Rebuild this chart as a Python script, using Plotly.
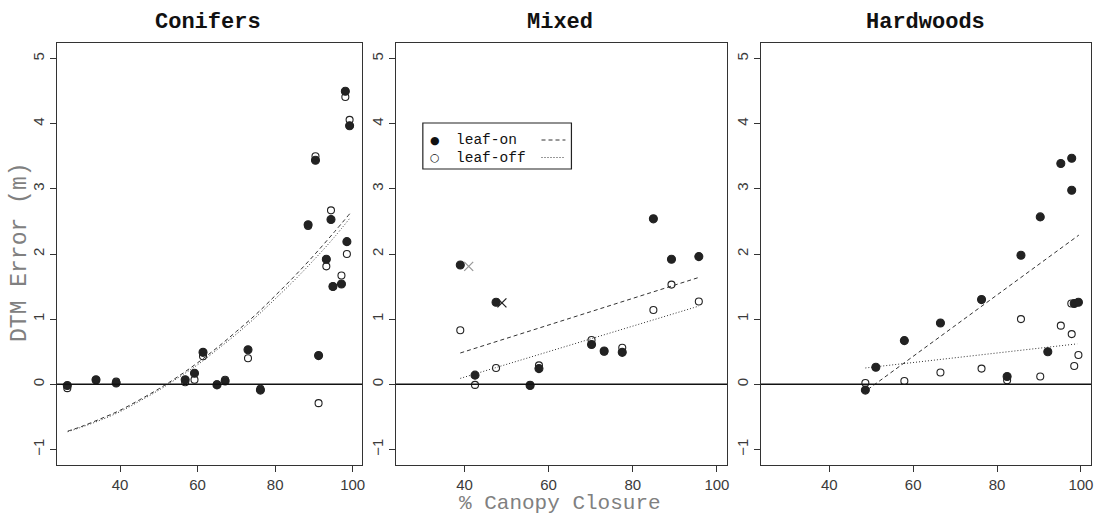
import plotly.graph_objects as go

# ---------------- data ----------------
# Conifers
con_x = [26.4, 33.8, 39.0, 56.8, 59.2, 61.4, 65.0, 67.1, 73.0, 76.2,
         88.5, 90.4, 91.2, 93.2, 94.4, 94.9, 97.1, 98.1, 98.5, 99.2]
con_on = [-0.02, 0.07, 0.02, 0.07, 0.17, 0.49, -0.01, 0.05, 0.53, -0.09,
          2.45, 3.44, 0.44, 1.92, 2.53, 1.50, 1.54, 4.50, 2.19, 3.97]
con_off = [-0.06, 0.06, 0.04, 0.03, 0.07, 0.43, 0.00, 0.07, 0.40, -0.07,
           2.43, 3.50, -0.29, 1.81, 2.67, 1.50, 1.67, 4.41, 2.00, 4.06]
con_fit_x = [26.5, 30, 35, 40, 45, 50, 55, 60, 65, 70, 75, 80, 85, 90, 95, 99.4]
con_fit_on = [-0.72, -0.65, -0.53, -0.40, -0.24, -0.07, 0.12, 0.33, 0.56, 0.81,
              1.07, 1.36, 1.66, 1.98, 2.32, 2.63]
con_fit_off = [-0.73, -0.66, -0.55, -0.42, -0.26, -0.09, 0.10, 0.30, 0.53, 0.77,
               1.03, 1.31, 1.60, 1.91, 2.24, 2.56]

# Mixed
mix_x = [39.0, 42.5, 47.5, 55.6, 57.7, 70.2, 73.2, 77.5, 84.9, 89.2, 95.7]
mix_on = [1.83, 0.14, 1.26, -0.02, 0.24, 0.61, 0.51, 0.49, 2.54, 1.92, 1.96]
mix_off = [0.83, -0.01, 0.25, -0.01, 0.29, 0.68, 0.50, 0.56, 1.14, 1.53, 1.27]
mix_out_x = [41.0, 48.9]
mix_out_y = [1.81, 1.25]
mix_fit_x = [39.0, 95.7]
mix_fit_on = [0.48, 1.64]
mix_fit_off = [0.09, 1.20]

# Hardwoods
hw_on_x = [48.6, 51.1, 57.9, 66.5, 76.3, 82.4, 85.7, 90.3, 92.1, 95.2, 97.8, 97.8, 98.4, 99.4]
hw_on = [-0.09, 0.26, 0.67, 0.94, 1.30, 0.12, 1.98, 2.57, 0.50, 3.39, 3.47, 2.98, 1.24, 1.26]
hw_off_x = [48.6, 57.9, 66.5, 76.3, 82.4, 85.7, 90.3, 95.2, 97.7, 97.8, 98.4, 99.4]
hw_off = [0.02, 0.05, 0.18, 0.24, 0.06, 1.00, 0.12, 0.90, 1.24, 0.77, 0.28, 0.45]
hw_fit_on_x = [49.2, 99.5]
hw_fit_on = [-0.08, 2.29]
hw_fit_off_x = [48.6, 99.1]
hw_fit_off = [0.25, 0.62]

panel_titles = ["Conifers", "Mixed", "Hardwoods"]
x_ticks = [40, 60, 80, 100]
y_ticks = [-1, 0, 1, 2, 3, 4, 5]

# ---------------- figure ----------------
W, H = 1097, 516
INK = "#222222"
LINE_INK = "#333333"
DASH = "4px,3px"
DOT = "1px,2px"

fig = go.Figure()


def add_points(x, y, ax, filled):
    fig.add_trace(go.Scatter(
        x=x, y=y, mode="markers", xaxis=ax[0], yaxis=ax[1], showlegend=False,
        marker=dict(symbol="circle" if filled else "circle-open",
                    size=8 if filled else 7, color=INK,
                    line=dict(width=1.1, color=INK)),
        hoverinfo="skip"))


def add_line(x, y, ax, dash, shape="linear"):
    fig.add_trace(go.Scatter(
        x=x, y=y, mode="lines", xaxis=ax[0], yaxis=ax[1], showlegend=False,
        line=dict(color=LINE_INK, width=1, dash=dash, shape=shape),
        hoverinfo="skip"))


p1 = ("x", "y")
p2 = ("x2", "y2")
p3 = ("x3", "y3")

add_line(con_fit_x, con_fit_on, p1, DASH, "spline")
add_line(con_fit_x, con_fit_off, p1, DOT, "spline")
add_points(con_x, con_on, p1, True)
add_points(con_x, con_off, p1, False)

add_line(mix_fit_x, mix_fit_on, p2, DASH)
add_line(mix_fit_x, mix_fit_off, p2, DOT)
add_points(mix_x, mix_on, p2, True)
add_points(mix_x, mix_off, p2, False)
fig.add_trace(go.Scatter(
    x=mix_out_x, y=mix_out_y, mode="markers", xaxis="x2", yaxis="y2", showlegend=False,
    marker=dict(symbol="x-thin-open", size=9, color=["#999999", "#222222"],
                line=dict(width=1.3, color=["#999999", "#222222"])),
    hoverinfo="skip"))

add_line(hw_fit_on_x, hw_fit_on, p3, DASH)
add_line(hw_fit_off_x, hw_fit_off, p3, DOT)
add_points(hw_on_x, hw_on, p3, True)
add_points(hw_off_x, hw_off, p3, False)

# panel geometry (pixels)
panels_px = [(57, 363), (397, 729), (763, 1094)]
y_top, y_bot = 43, 465
ydom = [(H - y_bot) / H, (H - y_top) / H]

tickfont = dict(family="Liberation Sans, Arial, sans-serif", size=15, color="#3a3a3a")
axis_common = dict(showline=True, mirror=True, linecolor="#333333", linewidth=1.3,
                   ticks="outside", ticklen=6, tickwidth=1, tickcolor="#333333",
                   showgrid=False, zeroline=False, tickfont=tickfont)

layout = dict(width=W, height=H, margin=dict(l=0, r=0, t=0, b=0),
              paper_bgcolor="white", plot_bgcolor="white", showlegend=False)

for i, (l, r) in enumerate(panels_px):
    sfx = "" if i == 0 else str(i + 1)
    layout["xaxis" + sfx] = dict(axis_common, domain=[l / W, r / W], range=[23.7, 102.4],
                                 tickvals=x_ticks, anchor="y" + sfx)
    layout["yaxis" + sfx] = dict(axis_common, domain=ydom, range=[-1.24, 5.24],
                                 tickvals=y_ticks, tickangle=-90, anchor="x" + sfx)

fig.update_layout(**layout)

# horizontal reference line y=0 in every panel
for i in range(3):
    sfx = "" if i == 0 else str(i + 1)
    fig.add_shape(type="line", xref=("x" + sfx) + " domain", yref="y" + sfx,
                  x0=0, x1=1, y0=0, y1=0, line=dict(color="#111111", width=1.6))

# panel titles
title_x = [209, 562, 928]
for t, xp in zip(panel_titles, title_x):
    fig.add_annotation(text="<b>" + t + "</b>", x=xp / W, y=1 - 23 / H, xref="paper", yref="paper",
                       showarrow=False, xanchor="center", yanchor="middle",
                       font=dict(family="Liberation Mono, Courier New, monospace", size=22, color="#111111"))

# axis titles
fig.add_annotation(text="DTM Error (m)", x=20 / W, y=1 - 252 / H, xref="paper", yref="paper",
                   showarrow=False, textangle=-90, xanchor="center", yanchor="middle",
                   font=dict(family="Liberation Mono, Courier New, monospace", size=23, color="#808080"))
fig.add_annotation(text="% Canopy Closure", x=562 / W, y=1 - 503 / H, xref="paper", yref="paper",
                   showarrow=False, xanchor="center", yanchor="middle",
                   font=dict(family="Liberation Mono, Courier New, monospace", size=21, color="#808080"))

# legend box (Mixed panel)
lx0, ly0, lx1, ly1 = 424, 123, 573, 169
fig.add_shape(type="rect", xref="paper", yref="paper",
              x0=lx0 / W, x1=lx1 / W, y0=1 - ly1 / H, y1=1 - ly0 / H,
              line=dict(color="#222222", width=1.2), fillcolor="white")
leg_rows = [("leaf-on", "●", DASH, 140), ("leaf-off", "○", DOT, 157.5)]
for label, sym, dash, yy in leg_rows:
    fig.add_annotation(text=sym, x=436 / W, y=1 - yy / H, xref="paper", yref="paper",
                       showarrow=False, xanchor="center", yanchor="middle",
                       font=dict(family="DejaVu Sans", size=11, color="#111111"))
    fig.add_annotation(text=label, x=455 / W, y=1 - yy / H, xref="paper", yref="paper",
                       showarrow=False, xanchor="left", yanchor="middle",
                       font=dict(family="Liberation Mono, Courier New, monospace", size=14.5, color="#111111"))
    fig.add_shape(type="line", xref="paper", yref="paper",
                  x0=543 / W, x1=567 / W, y0=1 - yy / H, y1=1 - yy / H,
                  line=dict(color="#333333", width=1, dash=dash))

fig.write_html("out.html", config={"displayModeBar": False},
               post_script="document.body.style.margin='0px';document.body.style.overflow='hidden';")
